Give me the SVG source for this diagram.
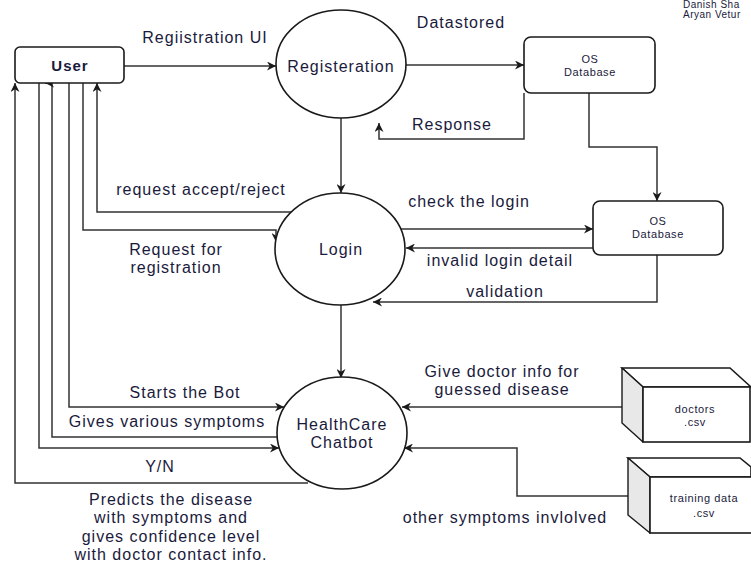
<svg xmlns="http://www.w3.org/2000/svg" width="751" height="564" viewBox="0 0 751 564">
<style>
  .bg { fill: #ffffff; }
  .node { fill: #ffffff; stroke: #1a1a1a; stroke-width: 1.6; }
  .side { fill: #e8e8e8; stroke: #1a1a1a; stroke-width: 1.4; stroke-linejoin: round; }
  .edge { fill: none; stroke: #333333; stroke-width: 1.5; marker-end: url(#arr); }
  text { font-family: "Liberation Sans", Arial, sans-serif; fill: #1a1a3c; }
  .lbl { font-size: 16px; letter-spacing: 1px; text-anchor: middle; }
  .sm { font-size: 11px; letter-spacing: 0.6px; text-anchor: middle; }
  .bold { font-weight: bold; font-size: 15px; letter-spacing: 1px; text-anchor: middle; }
  .corner { font-size: 10px; letter-spacing: 0.5px; }
</style>
<defs>
  <marker id="arr" viewBox="0 0 10 10" refX="10" refY="5" markerWidth="9" markerHeight="9" markerUnits="userSpaceOnUse" orient="auto">
    <path d="M0,0 L10,5 L0,10 L3,5 z" fill="#1a1a1a"/>
  </marker>
</defs>
<rect class="bg" x="0" y="0" width="751" height="564"/>

<g id="connectors">
  <path class="edge" d="M124,66 H276"/>
  <path class="edge" d="M406,65 H524"/>
  <path class="edge" d="M524,93 V139 H379 V123"/>
  <path class="edge" d="M589,93 V147 H657 V201"/>
  <path class="edge" d="M341,118 V193"/>
  <path class="edge" d="M401,229 H593"/>
  <path class="edge" d="M593,248 H406"/>
  <path class="edge" d="M657,255 V302 H373"/>
  <path class="edge" d="M341,305 V378"/>
  <path class="edge" d="M622,407 H402"/>
  <path class="edge" d="M628,496 H517 V448 H404"/>
  <path class="edge" d="M69,83 V407 H284"/>
  <path class="edge" d="M39,83 V448 H279"/>
  <path class="edge" d="M278,437 H52 V83 H45"/>
  <path class="edge" d="M308,483 H15 V83"/>
  <path class="edge" d="M291,212 H97 V83"/>
  <path class="edge" d="M83,83 V230 H276 V242"/>
</g>

<g id="user">
  <rect class="node" x="15" y="47" width="109" height="36" rx="5"/>
  <text class="bold" x="70" y="71">User</text>
</g>

<g id="registration">
  <ellipse class="node" cx="341" cy="64" rx="65" ry="54"/>
  <text class="lbl" x="341" y="72">Registeration</text>
</g>

<g id="db1">
  <rect class="node" x="524" y="37" width="131" height="56" rx="7"/>
  <text class="sm" x="590" y="63">OS</text>
  <text class="sm" x="590" y="76">Database</text>
</g>

<g id="db2">
  <rect class="node" x="593" y="201" width="130" height="54" rx="7"/>
  <text class="sm" x="658" y="225">OS</text>
  <text class="sm" x="658" y="238">Database</text>
</g>

<g id="login">
  <ellipse class="node" cx="340" cy="249" rx="65" ry="56"/>
  <text class="lbl" x="341" y="255">Login</text>
</g>

<g id="chatbot">
  <ellipse class="node" cx="342" cy="433" rx="65" ry="56"/>
  <text class="lbl" x="342" y="430">HealthCare</text>
  <text class="lbl" x="342" y="448">Chatbot</text>
</g>

<g id="doctors">
  <polygon class="node" points="622,368 730,368 751,387 643,387"/>
  <polygon class="side" points="622,368 643,387 643,442 622,423"/>
  <rect class="node" x="643" y="387" width="107" height="55"/>
  <text class="sm" x="695" y="413">doctors</text>
  <text class="sm" x="695" y="426">.csv</text>
</g>

<g id="training">
  <polygon class="node" points="628,458 740,458 751,467 751,477 650,477"/>
  <polygon class="side" points="628,458 650,477 650,533 628,515"/>
  <rect class="node" x="650" y="477" width="102" height="56"/>
  <text class="sm" x="704" y="502">training data</text>
  <text class="sm" x="704" y="517">.csv</text>
</g>

<g id="labels">
  <text class="lbl" x="205" y="43">Regiistration UI</text>
  <text class="lbl" x="461" y="28">Datastored</text>
  <text class="lbl" x="452" y="130">Response</text>
  <text class="lbl" x="469" y="207">check the login</text>
  <text class="lbl" x="500" y="266">invalid login detail</text>
  <text class="lbl" x="505" y="297">validation</text>
  <text class="lbl" x="201" y="195">request accept/reject</text>
  <text class="lbl" x="176" y="255">Request for</text>
  <text class="lbl" x="176" y="273">registration</text>
  <text class="lbl" x="185" y="398">Starts the Bot</text>
  <text class="lbl" x="167" y="427">Gives various symptoms</text>
  <text class="lbl" x="160" y="472">Y/N</text>
  <text class="lbl" x="171" y="505">Predicts the disease</text>
  <text class="lbl" x="171" y="523">with symptoms and</text>
  <text class="lbl" x="171" y="542">gives confidence level</text>
  <text class="lbl" x="171" y="560">with doctor contact info.</text>
  <text class="lbl" x="502" y="377">Give doctor info for</text>
  <text class="lbl" x="502" y="395">guessed disease</text>
  <text class="lbl" x="505" y="523">other symptoms invlolved</text>
  <text class="corner" x="683" y="8">Danish Sha</text>
  <text class="corner" x="683" y="18">Aryan Vetur</text>
</g>
</svg>
